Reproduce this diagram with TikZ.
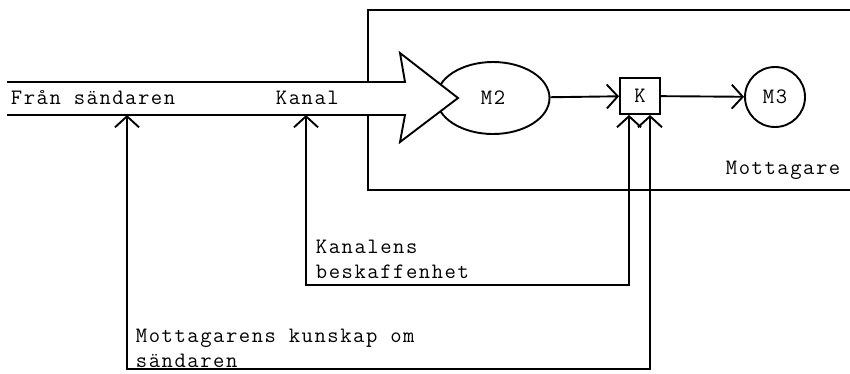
\documentclass[tikz,border=0pt]{standalone}
\usepackage{fontspec}
\newfontfamily\typewriter[LetterSpace=7]{Latin Modern Mono}
\usetikzlibrary{arrows.meta,shapes.geometric}

\begin{document}
\begin{tikzpicture}[x=1pt, y=-1pt, line width=1.9pt,
        font=\typewriter\fontsize{22}{25}\selectfont,
        >={Straight Barb[length=11pt,width=24pt,line width=1.9pt]},
        lbl/.style={inner sep=0pt, anchor=base west, align=left}]
    \useasboundingbox (0,0) rectangle (850,373);
    \draw (850,10) -- (368,10) -- (368,190) -- (850,190);
    \node[ellipse, draw, minimum width=113pt, minimum height=72pt] (m2) at (493,98) {M2};
    \fill[white] (7,82) -- (405,82) -- (400,53) -- (458,98) -- (400,142) -- (405,115) -- (7,115) -- cycle;
    \draw (7,82) -- (405,82) -- (400,53) -- (458,98) -- (400,142) -- (405,115) -- (7,115);
    \node[draw, minimum width=40pt, minimum height=36pt, inner sep=0pt] (k) at (640,96) {K};
    \node[circle, draw, minimum size=60pt, inner sep=0pt] (m3) at (775,97) {M3};
    \draw[->] (m2) -- (k);
    \draw[->] (k) -- (m3);
    \coordinate (kanal) at (306,115);
    \coordinate (sandare) at (127,115);
    \draw[<->] ([xshift=-11]k.south) -- ++(0,170) -| (kanal);
    \draw[<->] ([xshift=10]k.south) -- ++(0,254) -| (sandare);
    \node[lbl] (fran) at (10,104) {Från sändaren};
    \node[lbl] (kanaltxt) at (275,104) {Kanal};
    \node[lbl] (mottagare) at (725,174) {Mottagare};
    \node[lbl] (beskaffenhet) at (315,278) {Kanalens\\beskaffenhet};
    \node[lbl] (kunskap) at (135,367) {Mottagarens kunskap om\\sändaren};
\end{tikzpicture}
\end{document}
